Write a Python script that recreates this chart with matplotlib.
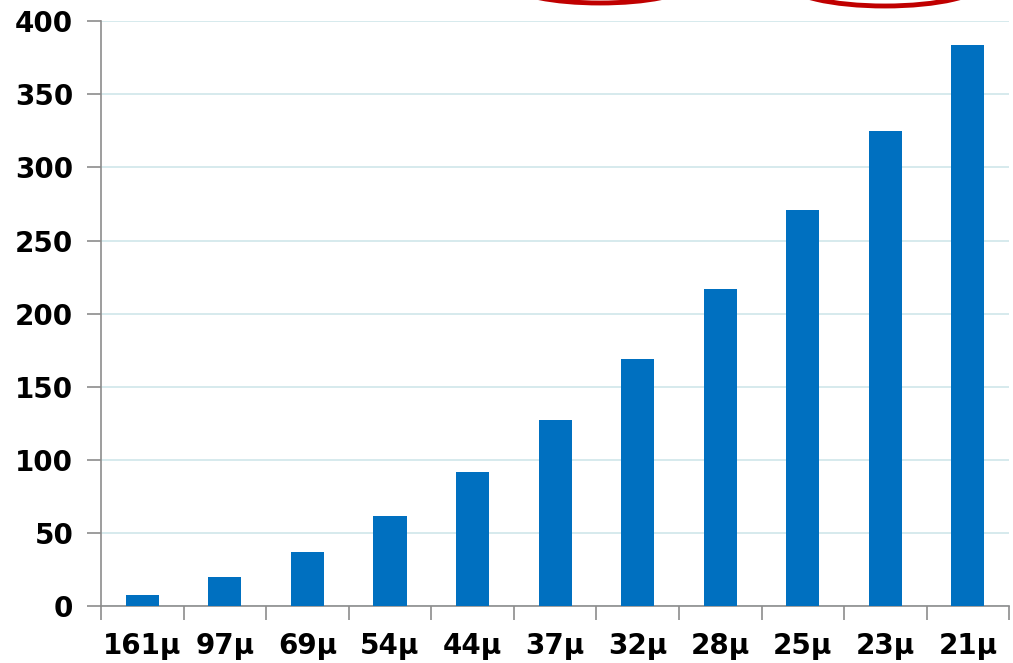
import numpy as np
import matplotlib.pyplot as plt
from matplotlib.patches import Ellipse

categories = ['161μ', '97μ', '69μ', '54μ', '44μ', '37μ', '32μ', '28μ', '25μ', '23μ', '21μ']
values = [7.5, 20, 37, 61.5, 91.5, 127, 169, 217, 271, 325, 384]
yticks = [0, 50, 100, 150, 200, 250, 300, 350, 400]

plt.rcParams['font.family'] = ['DejaVu Sans']

fig = plt.figure(figsize=(10.13, 6.63), dpi=100)
ax = fig.add_axes([0.0997, 0.086, 0.8966, 0.882])

x = np.arange(len(categories))
ax.bar(x, values, width=0.4, color='#0070C0', zorder=3)

ax.set_xlim(-0.5, len(categories) - 0.5)
ax.set_ylim(0, 400)
ax.set_yticks(yticks)
ax.set_yticklabels([str(v) for v in yticks], fontsize=20, fontweight='bold')
ax.set_xticks(x)
ax.set_xticklabels(categories, fontsize=20, fontweight='bold')

# category separators as tick marks, labels on centers
ax.set_xticks(np.arange(len(categories) + 1) - 0.5, minor=True)
ax.tick_params(axis='x', which='major', length=0, pad=18.5)
ax.tick_params(axis='x', which='minor', length=10, width=1.2, color='#8c8c8c', direction='out')
ax.tick_params(axis='y', length=10, width=1.2, color='#8c8c8c', pad=10)

ax.grid(axis='y', color='#cfe6ea', linewidth=1.2, zorder=0)
for side in ['top', 'right']:
    ax.spines[side].set_visible(False)
for side in ['left', 'bottom']:
    ax.spines[side].set_color('#8c8c8c')
    ax.spines[side].set_linewidth(1.2)

# red rings highlighting the top region (mostly above the figure edge)
for cx, cy, w, h in [(600, 663 + 15, 172, 36), (885, 663 + 17, 194, 46)]:
    e = Ellipse((cx, cy), w, h, transform=None, fill=False, edgecolor='#c00000',
                linewidth=3.5, clip_on=False)
    fig.add_artist(e)

fig.savefig('out.png', dpi=100)
